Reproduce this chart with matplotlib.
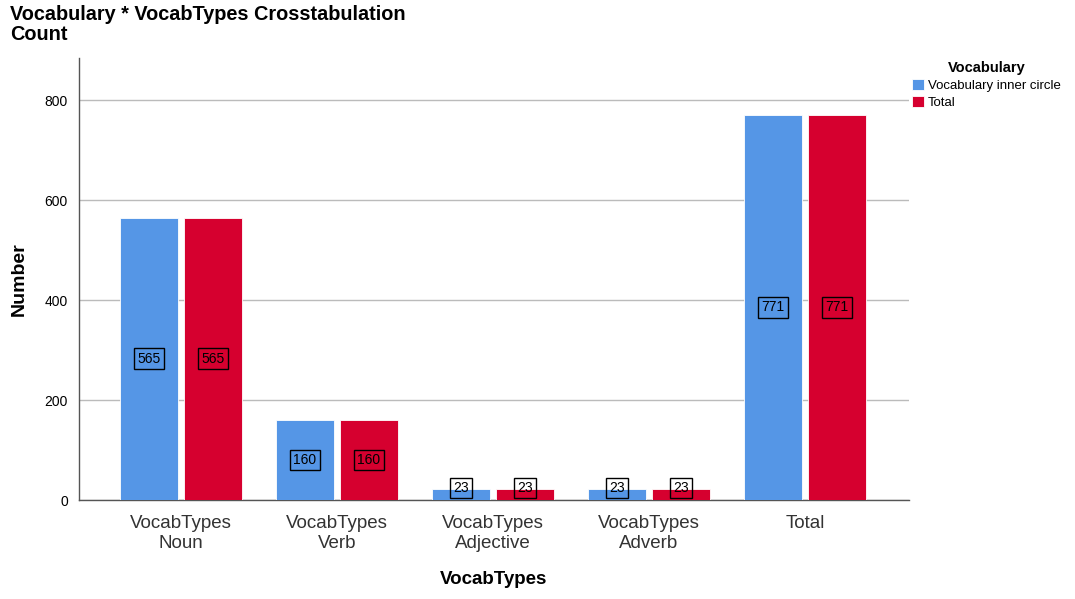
import matplotlib
matplotlib.use("Agg")
import matplotlib.pyplot as plt
import numpy as np

categories = ["VocabTypes\nNoun", "VocabTypes\nVerb", "VocabTypes\nAdjective", "VocabTypes\nAdverb", "Total"]
inner_circle = [565, 160, 23, 23, 771]
total = [565, 160, 23, 23, 771]
series_names = ["Vocabulary inner circle", "Total"]
colors = ["#5596E6", "#D6002F"]

plt.rcParams['font.family'] = ['Liberation Sans', 'DejaVu Sans']

fig = plt.figure(figsize=(10.75, 5.99), dpi=100)
W, H = 1075, 599
ax = fig.add_axes([79 / W, (599 - 500) / H, 830 / W, 442 / H])

x = np.arange(len(categories))
bw = 0.372
off = 0.205
for vals, name, col, sgn in [(inner_circle, series_names[0], colors[0], -1), (total, series_names[1], colors[1], 1)]:
    ax.bar(x + sgn * off, vals, width=bw, color=col, label=name, edgecolor='white', linewidth=0.6, zorder=3)
    for xi, v in zip(x + sgn * off, vals):
        ax.text(xi, max(v / 2, 24), str(v), ha='center', va='center', fontsize=10, zorder=4,
                bbox=dict(boxstyle='square,pad=0.25', facecolor='none', edgecolor='black', linewidth=1.0))

ax.set_xlim(-0.654, 4.667)
ax.set_ylim(0, 884)
ax.set_yticks([0, 200, 400, 600, 800])
ax.set_xticks(x)
ax.set_xticklabels(categories, fontsize=13.5, color='#333333', linespacing=1.2)
ax.tick_params(axis='y', labelsize=10, length=0, pad=8)
ax.tick_params(axis='x', length=0, pad=11)
ax.grid(axis='y', color='#BBBBBB', linewidth=1, zorder=0)
for s in ['top', 'right']:
    ax.spines[s].set_visible(False)
for s in ['left', 'bottom']:
    ax.spines[s].set_color('#555555')
    ax.spines[s].set_linewidth(1)

ax.set_ylabel("Number", fontsize=14, fontweight='bold', labelpad=12)
ax.set_xlabel("VocabTypes", fontsize=13.5, fontweight='bold', labelpad=14)

fig.text(10 / W, 1 - 15 / H, "Vocabulary * VocabTypes Crosstabulation", ha='left', va='center',
         fontsize=14.3, fontweight='bold')
fig.text(10 / W, 1 - 35 / H, "Count", ha='left', va='center', fontsize=14.3, fontweight='bold')

leg = fig.legend(loc='upper left', bbox_to_anchor=(903 / W, 1 - 52 / H), frameon=False, fontsize=9.5,
                 title="Vocabulary", handlelength=0.9, handleheight=0.9, handletextpad=0.3,
                 labelspacing=0.3, borderpad=0.2)
leg.get_title().set_fontweight('bold')
leg.get_title().set_fontsize(10.5)

fig.savefig("out.png", dpi=100)
